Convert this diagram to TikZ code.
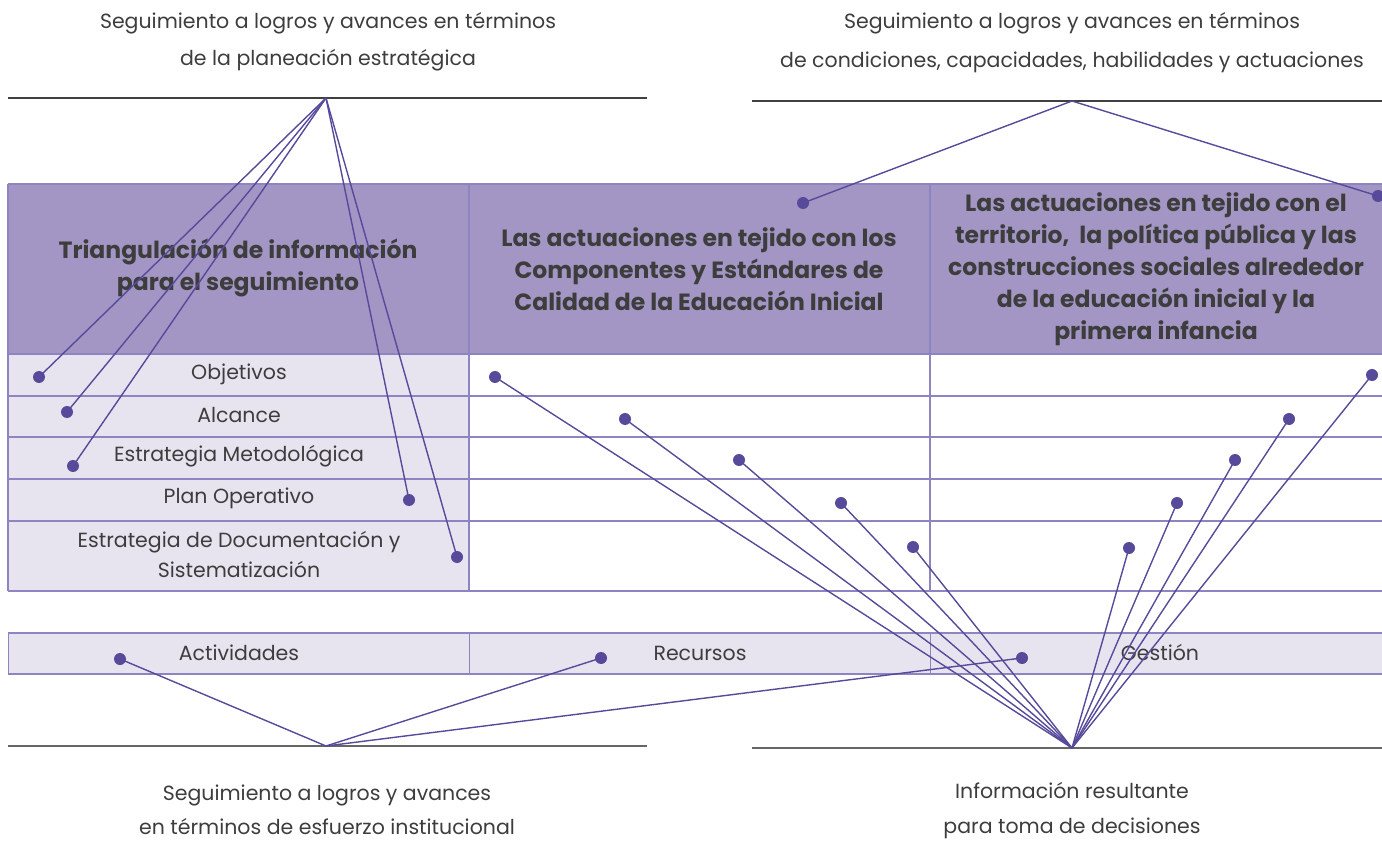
\documentclass[tikz,border=0pt]{standalone}
\usepackage{fontspec}
\setmainfont{Poppins}
\definecolor{hdr}{HTML}{A396C4}
\definecolor{rowfill}{HTML}{E7E4F0}
\definecolor{gridc}{HTML}{8D84C2}
\definecolor{conn}{HTML}{574A9A}
\definecolor{txt}{HTML}{3D3D3D}
\begin{document}
\begin{tikzpicture}[x=1pt,y=-1pt,
  gridline/.style={gridc,line width=1.3pt},
  baseline/.style={black!75,line width=1.3pt},
  connector/.style={conn,line width=1.4pt},
  dot/.style={circle,fill=conn,inner sep=0pt,minimum size=12pt},
  bodytext/.style={text=txt,font=\fontsize{20.5}{37}\selectfont,align=center,inner sep=0pt},
  celltext/.style={text=txt,font=\fontsize{20.5}{30}\selectfont,align=center,inner sep=0pt},
  headtext/.style={text=txt,font=\bfseries\fontsize{23.5}{32}\selectfont,align=center,inner sep=0pt}]
\useasboundingbox (0,0) rectangle (1382,842);
% table fills
\fill[hdr] (8,184) rectangle (1382,354);
\fill[rowfill] (8,354) rectangle (469,591);
\fill[rowfill] (8,633) rectangle (1382,674);
% grid lines
\foreach \yy in {184,354,396,437,479,521,591,633,674}
  \draw[gridline] (8,\yy) -- (1382,\yy);
\foreach \xx in {8,469,930} {
  \draw[gridline] (\xx,184) -- (\xx,591);
  \draw[gridline,line width=0.8pt] (\xx,633) -- (\xx,674);
}
% base lines
\draw[baseline] (8,98) -- (647,98);
\draw[baseline] (752,101) -- (1382,101);
\draw[baseline,black!60] (8,746) -- (647,746);
\draw[baseline,black!60] (752,748) -- (1382,748);
% hubs
\coordinate (hTL) at (326,98);
\coordinate (hTR) at (1072,101);
\coordinate (hBL) at (326,746);
\coordinate (hBR) at (1072,748);
% outer texts
\node[bodytext] (tTL) at (328,42) {Seguimiento a logros y avances en términos\\de la planeación estratégica};
\node[bodytext,font=\fontsize{20.5}{39}\selectfont] (tTR) at (1072,43) {Seguimiento a logros y avances en términos\\de condiciones, capacidades, habilidades y actuaciones};
\node[bodytext,font=\fontsize{20.5}{34}\selectfont] (tBL) at (327,810) {Seguimiento a logros y avances\\en términos de esfuerzo institucional};
\node[bodytext,font=\fontsize{20.5}{35}\selectfont] (tBR) at (1072,811) {Información resultante\\para toma de decisiones};
% header texts
\node[headtext] (h1) at (238,268) {Triangulación de información\\para el seguimiento};
\node[headtext] (h2) at (699,269) {Las actuaciones en tejido con los\\Componentes y Estándares de\\Calidad de la Educación Inicial};
\node[headtext] (h3) at (1156,269) {Las actuaciones en tejido con el\\territorio,\ \ la política pública y las\\construcciones sociales alrededor\\de la educación inicial y la\\primera infancia};
% cell texts
\node[celltext] (c1) at (239,374) {Objetivos};
\node[celltext] (c2) at (239,415) {Alcance};
\node[celltext] (c3) at (239,456) {Estrategia Metodológica};
\node[celltext] (c4) at (239,498) {Plan Operativo};
\node[celltext] (c5) at (239,555) {Estrategia de Documentación y\\Sistematización};
\node[celltext] (b1) at (239,653) {Actividades};
\node[celltext] (b2) at (700,653) {Recursos};
\node[celltext] (b3) at (1160,653) {Gestión};
% dots
\node[dot] (pObj) at (39,377) {};
\node[dot] (pAlc) at (67,412) {};
\node[dot] (pEst) at (73,466) {};
\node[dot] (pPlan) at (409,500) {};
\node[dot] (pDoc) at (457,557) {};
\node[dot] (pH2) at (803,203) {};
\node[dot] (pH3) at (1378,196) {};
\node[dot] (pAct) at (120,659) {};
\node[dot] (pRec) at (601,658) {};
\node[dot] (pGes) at (1022,658) {};
\node[dot] (m1) at (495,377) {};
\node[dot] (m2) at (625,419) {};
\node[dot] (m3) at (739,460) {};
\node[dot] (m4) at (841,503) {};
\node[dot] (m5) at (913,547) {};
\node[dot] (r1) at (1372,375) {};
\node[dot] (r2) at (1289,419) {};
\node[dot] (r3) at (1235,460) {};
\node[dot] (r4) at (1177,503) {};
\node[dot] (r5) at (1129,548) {};
% connectors
\foreach \p in {pObj,pAlc,pEst,pPlan,pDoc} \draw[connector] (hTL) -- (\p.center);
\foreach \p in {pH2,pH3} \draw[connector] (hTR) -- (\p.center);
\foreach \p in {pAct,pRec,pGes} \draw[connector] (hBL) -- (\p.center);
\foreach \p in {m1,m2,m3,m4,m5,r1,r2,r3,r4,r5} \draw[connector] (hBR) -- (\p.center);
\end{tikzpicture}
\end{document}
